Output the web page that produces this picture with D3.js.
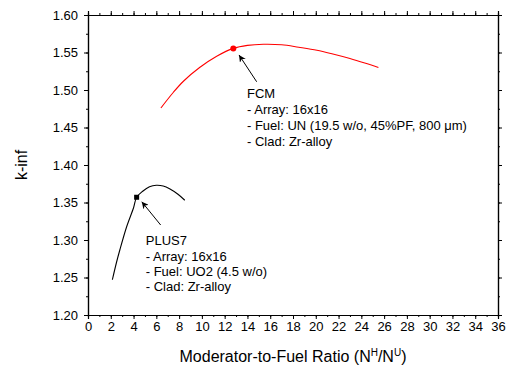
<!DOCTYPE html>
<html>
<head>
<meta charset="utf-8">
<script src="https://cdn.jsdelivr.net/npm/d3@7"></script>
<style>
  body { margin: 0; background: #fff; }
  svg text { font-family: Arial, "Liberation Sans", sans-serif; }
</style>
</head>
<body>
<div id="chart"></div>
<script>
// FCM curve (red) and PLUS7 curve (black)
const fcmX = [6.4, 7.5, 8.4, 9.8, 11.3, 12.76, 14.0, 15.4, 17.0, 18.5, 20.1, 21.5, 23.0, 24.3, 25.5];
const fcmK = [1.476, 1.497, 1.512, 1.530, 1.545, 1.5555, 1.5595, 1.561, 1.5603, 1.557, 1.553, 1.548, 1.542, 1.536, 1.530];
const fcmMarker = [12.76, 1.5555];

const plusX = [2.14, 2.5, 2.8, 3.4, 4.0, 4.27, 4.8, 5.4, 6.0, 6.6, 7.2, 7.9, 8.5];
const plusK = [1.247, 1.270, 1.287, 1.318, 1.343, 1.357, 1.365, 1.371, 1.373, 1.372, 1.368, 1.361, 1.353];
const plusMarker = [4.27, 1.357];

const xTicks = d3.range(0, 37, 2);
const yTicks = d3.range(1.20, 1.6001, 0.05);

const fcmNotes = ["FCM", "- Array: 16x16", "- Fuel: UN (19.5 w/o, 45%PF, 800 \u03BCm)", "- Clad: Zr-alloy"];
const plusNotes = ["PLUS7", "- Array: 16x16", "- Fuel: UO2 (4.5 w/o)", "- Clad: Zr-alloy"];

const W = 509, H = 368;
const margin = { top: 15, right: 11, bottom: 53, left: 88 };
const width = W - margin.left - margin.right;
const height = H - margin.top - margin.bottom;

const svg = d3.select("#chart").append("svg")
  .attr("width", W)
  .attr("height", H);

const g = svg.append("g")
  .attr("transform", "translate(" + margin.left + "," + margin.top + ")");

const x = d3.scaleLinear().domain([0, 36]).range([0, width]);
const y = d3.scaleLinear().domain([1.20, 1.60]).range([height, 0]);

// minor ticks
const xMinor = d3.range(0, 37, 1);
const yMinor = d3.range(1.20, 1.6001, 0.025);

function minorAxis(axisFn, scale, vals) {
  return axisFn(scale).tickValues(vals).tickSize(2).tickFormat("");
}

g.append("g").attr("class", "axis").attr("transform", "translate(0," + height + ")")
  .call(minorAxis(d3.axisBottom, x, xMinor));
g.append("g").attr("class", "axis")
  .call(minorAxis(d3.axisTop, x, xMinor));
g.append("g").attr("class", "axis")
  .call(minorAxis(d3.axisLeft, y, yMinor));
g.append("g").attr("class", "axis").attr("transform", "translate(" + width + ",0)")
  .call(minorAxis(d3.axisRight, y, yMinor));

// major ticks + labels
g.append("g").attr("class", "axis").attr("transform", "translate(0," + height + ")")
  .call(d3.axisBottom(x).tickValues(xTicks).tickSize(4).tickPadding(3).tickFormat(d3.format("d")));
g.append("g").attr("class", "axis")
  .call(d3.axisTop(x).tickValues(xTicks).tickSize(4).tickFormat(""));
g.append("g").attr("class", "axis")
  .call(d3.axisLeft(y).tickValues(yTicks).tickSize(4).tickPadding(6).tickFormat(d3.format(".2f")));
g.append("g").attr("class", "axis").attr("transform", "translate(" + width + ",0)")
  .call(d3.axisRight(y).tickValues(yTicks).tickSize(4).tickFormat(""));

g.selectAll(".axis path").attr("stroke", "#000").attr("stroke-width", 1.2);
g.selectAll(".axis line").attr("stroke", "#000");
g.selectAll(".axis text").attr("fill", "#000").style("font-size", "13px");

// curves
const line = d3.line()
  .x(d => x(d[0]))
  .y(d => y(d[1]))
  .curve(d3.curveCatmullRom);

g.append("path")
  .datum(fcmX.map((v, i) => [v, fcmK[i]]))
  .attr("fill", "none")
  .attr("stroke", "#ff0000")
  .attr("stroke-width", 1.1)
  .attr("d", line);

g.append("path")
  .datum(plusX.map((v, i) => [v, plusK[i]]))
  .attr("fill", "none")
  .attr("stroke", "#000")
  .attr("stroke-width", 1.1)
  .attr("d", line);

// markers
g.append("circle")
  .attr("cx", x(fcmMarker[0]))
  .attr("cy", y(fcmMarker[1]))
  .attr("r", 3)
  .attr("fill", "#ff0000");

g.append("rect")
  .attr("x", x(plusMarker[0]) - 2.5)
  .attr("y", y(plusMarker[1]) - 2.5)
  .attr("width", 5)
  .attr("height", 5)
  .attr("fill", "#000");

// arrows
const defs = svg.append("defs");
defs.append("marker")
  .attr("id", "arrow")
  .attr("viewBox", "0 0 10 10")
  .attr("refX", 10).attr("refY", 5)
  .attr("markerWidth", 7).attr("markerHeight", 7)
  .attr("markerUnits", "userSpaceOnUse")
  .attr("orient", "auto")
  .append("path")
  .attr("d", "M0,0 L10,5 L0,10 L3,5 Z")
  .attr("fill", "#000");

const arrows = [
  { from: [14.81, 1.511], to: [13.26, 1.5467] },
  { from: [6.38, 1.320], to: [4.72, 1.351] }
];
g.selectAll(".arrow")
  .data(arrows)
  .enter()
  .append("line")
  .attr("x1", d => x(d.from[0]))
  .attr("y1", d => y(d.from[1]))
  .attr("x2", d => x(d.to[0]))
  .attr("y2", d => y(d.to[1]))
  .attr("stroke", "#000")
  .attr("stroke-width", 1)
  .attr("marker-end", "url(#arrow)");

// notes
function notes(lines, pos, step) {
  g.append("text")
    .attr("x", x(pos[0]))
    .attr("y", y(pos[1]))
    .style("font-size", "13px")
    .attr("fill", "#000")
    .selectAll("tspan")
    .data(lines)
    .enter()
    .append("tspan")
    .attr("x", x(pos[0]))
    .attr("dy", (d, i) => i === 0 ? 0 : step)
    .text(d => d);
}
notes(fcmNotes, [13.96, 1.489], 16);
notes(plusNotes, [5.07, 1.293], 15.3);

// axis titles
const xt = svg.append("text")
  .attr("x", margin.left + width / 2)
  .attr("y", 362)
  .attr("text-anchor", "middle")
  .style("font-size", "16px")
  .attr("fill", "#000");
xt.append("tspan").text("Moderator-to-Fuel Ratio (N");
xt.append("tspan").attr("dy", -6).style("font-size", "10px").text("H");
xt.append("tspan").attr("dy", 6).text("/N");
xt.append("tspan").attr("dy", -6).style("font-size", "10px").text("U");
xt.append("tspan").attr("dy", 6).text(")");

svg.append("text")
  .attr("transform", "translate(27," + (margin.top + height / 2) + ") rotate(-90)")
  .attr("text-anchor", "middle")
  .style("font-size", "16px")
  .attr("fill", "#000")
  .text("k-inf");
</script>
</body>
</html>
